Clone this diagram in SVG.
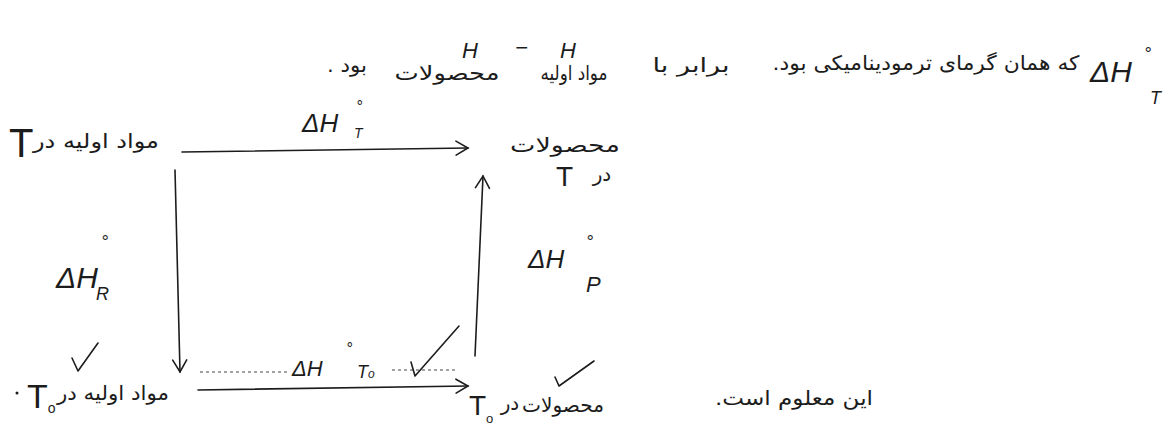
<svg xmlns="http://www.w3.org/2000/svg" width="1171" height="434" viewBox="0 0 1171 434">
<style>
.fa{font-family:"DejaVu Sans","Noto Sans",sans-serif;font-size:20px;fill:#1c1c1c;text-anchor:middle;direction:rtl}
.lt{font-family:"Liberation Sans","DejaVu Sans",sans-serif;font-style:italic;fill:#1c1c1c}
.up{font-family:"Liberation Sans","DejaVu Sans",sans-serif;font-style:normal;fill:#1c1c1c}
.ln{fill:none;stroke:#1c1c1c;stroke-width:1.6;stroke-linecap:round}
.dot{fill:none;stroke:#444;stroke-width:1.2;stroke-dasharray:3 3}
.chk{fill:none;stroke:#1c1c1c;stroke-width:1.6;stroke-linecap:round;stroke-linejoin:round}
</style>
<defs>
<marker id="arr" viewBox="-14 -9 16 18" refX="0" refY="0" markerWidth="16" markerHeight="18" orient="auto" markerUnits="userSpaceOnUse">
<path d="M-12,-7 L0,0 L-12,7" fill="none" stroke="#1c1c1c" stroke-width="1.6" stroke-linecap="round"/>
</marker>
</defs>
<rect width="1171" height="434" fill="#ffffff"/>

<g id="note-top">
<text class="fa" direction="rtl" x="347" y="72" textLength="40" lengthAdjust="spacingAndGlyphs">بود .</text>
<text class="fa" direction="rtl" x="447" y="80" textLength="105" lengthAdjust="spacingAndGlyphs">محصولات</text>
<text class="lt" x="462" y="58" font-size="22">H</text>
<text class="lt" x="515" y="55" font-size="22">−</text>
<text class="fa" direction="rtl" x="574" y="80" textLength="67" lengthAdjust="spacingAndGlyphs">مواد اولیه</text>
<text class="lt" x="560" y="58" font-size="22">H</text>
<text class="fa" direction="rtl" x="691" y="72" textLength="77" lengthAdjust="spacingAndGlyphs">برابر با</text>
<text class="fa" direction="rtl" x="926" y="70" textLength="307" lengthAdjust="spacingAndGlyphs">که همان گرمای ترمودینامیکی بود.</text>
<text class="lt" x="1090" y="82" font-size="30">ΔH<tspan x="1144" y="60" font-size="18">°</tspan><tspan x="1150" y="104" font-size="18">T</tspan></text>
</g>

<g id="connectors">
<path class="ln" d="M182,152 L468,148" marker-end="url(#arr)"/>
<path class="ln" d="M175,170 L180,372" marker-end="url(#arr)"/>
<path class="ln" d="M475,356 L483,176" marker-end="url(#arr)"/>
<path class="ln" d="M198,390 L468,386" marker-end="url(#arr)"/>
<path class="dot" d="M200,372 L288,372"/>
<path class="dot" d="M392,370 L455,370"/>
</g>

<g id="reactants-T">
<text class="fa" direction="rtl" x="96" y="148" textLength="126" lengthAdjust="spacingAndGlyphs">مواد اولیه در</text>
<text class="up" x="9" y="157" font-size="40">T</text>
</g>

<g id="products-T">
<text class="fa" direction="rtl" x="565" y="152" textLength="110" lengthAdjust="spacingAndGlyphs">محصولات</text>
<text class="fa" direction="rtl" x="602" y="181">در</text>
<text class="up" x="556" y="186" font-size="28">T</text>
</g>

<g id="reactants-T0">
<circle cx="17" cy="393" r="1.5" fill="#1c1c1c"/>
<text class="up" x="27" y="408" font-size="34">T<tspan font-size="14" dy="5">o</tspan></text>
<text class="fa" direction="rtl" x="113" y="400" textLength="112" lengthAdjust="spacingAndGlyphs">مواد اولیه در</text>
<path class="chk" d="M72,358 L78,371 L98,343"/>
</g>

<g id="products-T0">
<text class="up" x="469" y="415" font-size="28">T<tspan font-size="13" dy="8">o</tspan></text>
<text class="fa" direction="rtl" x="510" y="410" font-size="17">در</text>
<text class="fa" direction="rtl" x="563" y="412" textLength="82" lengthAdjust="spacingAndGlyphs">محصولات</text>
<path class="chk" d="M555,377 L559,386 L594,361"/>
</g>

<g id="label-dHT">
<text class="lt" x="302" y="132" font-size="26">ΔH<tspan x="356" y="112" font-size="16">°</tspan><tspan x="354" y="138" font-size="14">T</tspan></text>
</g>

<g id="label-dHR">
<text class="lt" x="56" y="288" font-size="30">ΔH<tspan x="101" y="248" font-size="18">°</tspan><tspan x="96" y="300" font-size="18">R</tspan></text>
</g>

<g id="label-dHP">
<text class="lt" x="528" y="268" font-size="26">ΔH<tspan x="586" y="248" font-size="18">°</tspan><tspan x="586" y="292" font-size="22">P</tspan></text>
</g>

<g id="label-dHT0">
<text class="lt" x="292" y="376" font-size="22">ΔH<tspan x="346" y="354" font-size="16">°</tspan><tspan x="357" y="378" font-size="18">T</tspan><tspan font-size="12">o</tspan></text>
<path class="chk" d="M411,362 L415,376 L459,326"/>
</g>

<g id="note-bottom">
<text class="fa" direction="rtl" x="794" y="405" textLength="158" lengthAdjust="spacingAndGlyphs">این معلوم است.</text>
</g>
</svg>
